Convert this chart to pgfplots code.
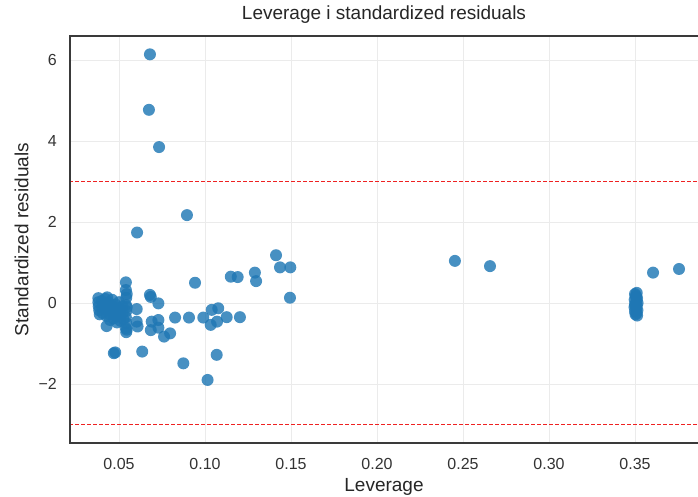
\documentclass[border=0pt]{standalone}
\usepackage{fontspec}
\setmainfont{Liberation Sans}
\usepackage{pgfplots}
\pgfplotsset{compat=1.18}
\definecolor{pt}{HTML}{1F77B4}
\definecolor{gridc}{HTML}{EBEBEB}
\definecolor{framec}{HTML}{3A3A3A}
\definecolor{refl}{HTML}{EE2222}
\begin{document}
\begin{tikzpicture}
\begin{axis}[
  scale only axis, width=628pt, height=407pt,
  xmin=0.02151, xmax=0.38663, ymin=-3.457, ymax=6.593,
  xtick={0.05,0.10,0.15,0.20,0.25,0.30,0.35},
  xticklabels={0.05,0.10,0.15,0.20,0.25,0.30,0.35},
  ytick={-2,0,2,4,6},
  yticklabels={−2,0,2,4,6},
  major tick length=0pt,
  grid=major,
  major grid style={gridc, line width=0.8pt},
  axis line style={draw=none},
  tick label style={font=\fontsize{16}{19}\selectfont, text=black!80},
  xticklabel style={inner sep=0pt, anchor=north, yshift=-15.3pt},
  yticklabel style={inner sep=0pt, anchor=east, xshift=-13pt},
  title={Leverage i standardized residuals},
  title style={font=\fontsize{19}{23}\selectfont, text=black!85, at={(axis description cs:0.5,1)}, anchor=base, inner sep=0pt, yshift=10pt},
  xlabel={Leverage},
  xlabel style={font=\fontsize{19}{23}\selectfont, text=black!85, at={(axis description cs:0.5,0)}, anchor=base, inner sep=0pt, yshift=-48.5pt},
  ylabel={Standardized residuals},
  ylabel style={font=\fontsize{19}{23}\selectfont, text=black!85, at={(axis description cs:-0.0664,0.5)}, anchor=base, inner sep=0pt},
  clip=true,
]
\addplot[only marks, mark=*, mark size=6pt, draw=pt, fill=pt, draw opacity=0, fill opacity=0.82]
coordinates {
(0.0380,0.12)(0.0380,0.02)(0.0382,-0.08)(0.0385,-0.18)(0.0388,-0.28)
(0.0400,0.05)(0.0402,-0.12)(0.0405,-0.25)
(0.0420,0.10)(0.0431,0.14)(0.0422,-0.02)(0.0425,-0.18)(0.0428,-0.32)(0.0428,-0.57)
(0.0440,0.02)(0.0442,-0.14)(0.0445,-0.28)(0.0448,-0.42)
(0.0460,0.08)(0.0462,-0.08)(0.0465,-0.22)(0.0468,-0.38)
(0.0470,-1.24)(0.0478,-1.22)
(0.0480,-0.04)(0.0482,-0.18)(0.0485,-0.33)(0.0488,-0.48)
(0.0500,0.02)(0.0502,-0.12)(0.0505,-0.28)(0.0508,-0.44)
(0.0520,-0.08)(0.0522,-0.24)(0.0525,-0.40)
(0.0540,0.51)(0.0540,0.32)(0.0542,0.13)(0.0540,-0.05)(0.0542,-0.20)(0.0540,-0.35)(0.0542,-0.50)(0.0540,-0.62)(0.0542,-0.72)
(0.0545,0.22)(0.0545,-0.10)(0.0545,-0.66)
(0.0603,-0.15)(0.0603,-0.46)(0.0608,-0.58)(0.0605,1.74)(0.0635,-1.20)
(0.0680,6.14)(0.0674,4.77)(0.0733,3.85)(0.0895,2.17)
(0.0680,0.20)(0.0685,0.15)(0.0729,-0.01)(0.0690,-0.46)(0.0685,-0.67)(0.0729,-0.42)(0.0729,-0.61)
(0.0762,-0.83)(0.0797,-0.75)(0.0826,-0.36)(0.0874,-1.49)(0.0907,-0.36)(0.0942,0.50)(0.0990,-0.36)
(0.1015,-1.90)(0.1039,-0.17)(0.1077,-0.13)(0.1033,-0.54)(0.1070,-0.46)(0.1068,-1.28)(0.1126,-0.35)
(0.1150,0.65)(0.1190,0.64)(0.1203,-0.35)(0.1290,0.75)(0.1297,0.54)(0.1413,1.18)(0.1436,0.88)(0.1496,0.88)(0.1494,0.13)
(0.2453,1.04)(0.2657,0.91)
(0.3500,0.22)(0.3510,0.25)(0.3505,0.18)(0.3512,0.12)(0.3498,0.08)(0.3508,0.05)(0.3515,0.00)(0.3502,-0.03)
(0.3510,-0.07)(0.3497,-0.10)(0.3507,-0.14)(0.3514,-0.18)(0.3500,-0.21)(0.3509,-0.25)(0.3503,-0.28)(0.3512,-0.31)
(0.3506,0.15)(0.3501,-0.05)
(0.3605,0.75)(0.3756,0.84)
};
\addplot[color=refl, line width=1pt, dash pattern=on 4pt off 2pt, mark=none] coordinates {(0.0,-3) (0.4,-3)};
\addplot[color=refl, line width=1pt, dash pattern=on 4pt off 2pt, mark=none] coordinates {(0.0,3) (0.4,3)};
\coordinate (sw) at (rel axis cs:0,0);
\coordinate (ne) at (rel axis cs:1,1);
\coordinate (nw) at (rel axis cs:0,1);
\coordinate (se) at (rel axis cs:1,0);
\end{axis}
\draw[framec, line width=1.3pt] (ne) -- (nw) -- (sw) -- (se);
\pgfresetboundingbox
\path ([shift={(-70pt,-54pt)}]sw) rectangle ([shift={(0pt,36pt)}]ne);
\end{tikzpicture}
\end{document}
